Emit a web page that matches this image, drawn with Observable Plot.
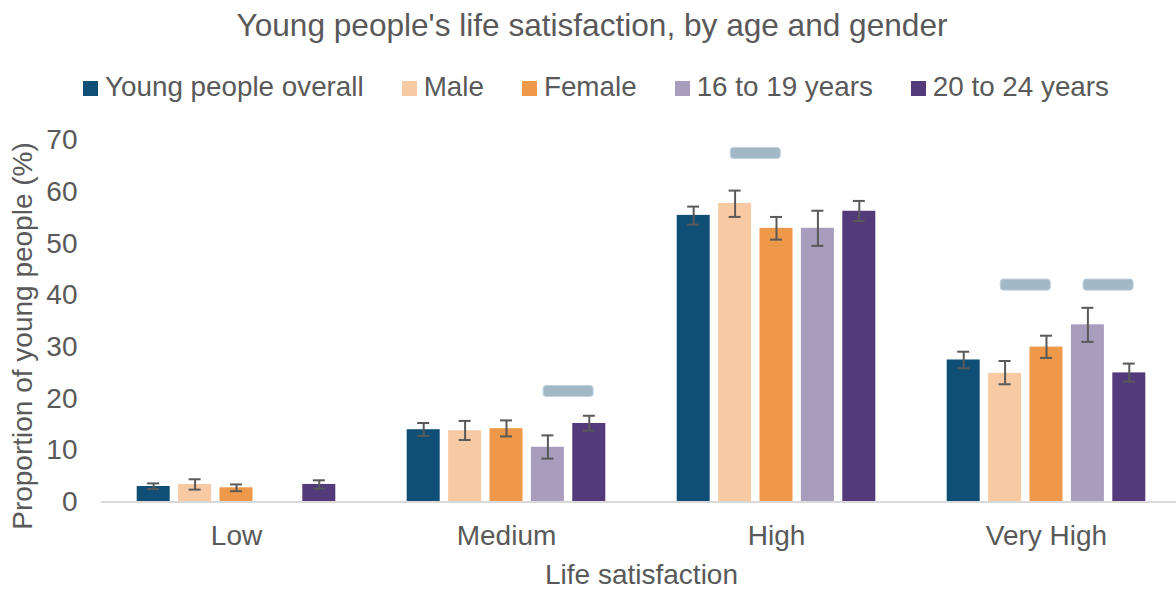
<!DOCTYPE html>
<html>
<head>
<meta charset="utf-8">
<script src="https://cdn.jsdelivr.net/npm/d3@7"></script>
<script src="https://cdn.jsdelivr.net/npm/@observablehq/plot@0.6"></script>
<style>
  html, body { margin: 0; padding: 0; background: #ffffff; }
  body { width: 1176px; height: 590px; overflow: hidden; font-family: "Liberation Sans", Arial, sans-serif; color: #595959; }
  #title { height: 50px; line-height: 50px; font-size: 31.6px; text-align: center; padding-left: 8px; white-space: nowrap; }
  #legend { height: 70px; line-height: 74px; font-size: 27.8px; text-align: center; padding-left: 16px; white-space: nowrap; }
  #legend .item { display: inline-block; }
  #legend .sw { display: inline-block; width: 15px; height: 15px; margin-right: 7px; vertical-align: baseline; }
  #chart svg { display: block; }
</style>
</head>
<body>
<div id="title">Young people's life satisfaction, by age and gender</div>
<div id="legend"></div>
<div id="chart"></div>
<script>
// ---- data ----
const categories = ["Low", "Medium", "High", "Very High"];
const series = ["Young people overall", "Male", "Female", "16 to 19 years", "20 to 24 years"];
const seriesColors = ["#104f75", "#f7caa4", "#ee984a", "#a89dbc", "#533a7a"];

// proportion (%) per series, in category order
const overallValues = [3.0, 14.0, 55.5, 27.5];
const maleValues    = [3.4, 13.8, 57.8, 24.9];
const femaleValues  = [2.75, 14.2, 53.0, 30.0];
const age16Values   = [null, 10.6, 53.0, 34.3];
const age20Values   = [3.4, 15.2, 56.3, 25.0];

// confidence interval bounds
const overallLower = [2.5, 12.8, 53.7, 25.9];
const overallUpper = [3.6, 15.3, 57.2, 29.1];
const maleLower    = [2.4, 12.0, 55.2, 22.8];
const maleUpper    = [4.4, 15.7, 60.3, 27.3];
const femaleLower  = [2.1, 12.7, 50.8, 27.9];
const femaleUpper  = [3.4, 15.8, 55.2, 32.2];
const age16Lower   = [null, 8.4, 49.6, 31.0];
const age16Upper   = [null, 12.9, 56.4, 37.6];
const age20Lower   = [2.6, 13.8, 54.4, 23.3];
const age20Upper   = [4.2, 16.7, 58.3, 26.8];

// significance markers (placed over a pair of bars)
const sigCategory = ["Medium", "High", "Very High", "Very High"];
const sigPairA    = ["16 to 19 years", "Male", "Male", "16 to 19 years"];
const sigPairB    = ["20 to 24 years", "Female", "Female", "20 to 24 years"];
const sigLevel    = [21.4, 67.5, 42.0, 42.0];

const yTicks = [0, 10, 20, 30, 40, 50, 60, 70];
const chartTitle = "Young people's life satisfaction, by age and gender";
const xTitle = "Life satisfaction";
const yTitle = "Proportion of young people (%)";

// ---- layout / style constants ----
const textColor = "#595959";
const fontFamily = "'Liberation Sans', Arial, sans-serif";
const pitch = 41.4 / 270;     // distance between bar centres, in category units
const barWidth = 33 / 270;    // bar width, in category units
const capHalf = 6 / 270;      // error bar cap half-width
const sigHalfWidth = 25 / 270;
const sigHalfHeight = 1.07;   // in %

const valueTable = [overallValues, maleValues, femaleValues, age16Values, age20Values];
const lowerTable = [overallLower, maleLower, femaleLower, age16Lower, age20Lower];
const upperTable = [overallUpper, maleUpper, femaleUpper, age16Upper, age20Upper];

const rows = [];
series.forEach((s, si) => {
  categories.forEach((c, ci) => {
    const v = valueTable[si][ci];
    if (v == null) return;
    rows.push({series: s, category: c, ci, si, value: v, lo: lowerTable[si][ci], hi: upperTable[si][ci],
               cx: ci + (si - (series.length - 1) / 2) * pitch});
  });
});

const sigRows = sigCategory.map((c, i) => {
  const ci = categories.indexOf(c);
  const a = series.indexOf(sigPairA[i]);
  const b = series.indexOf(sigPairB[i]);
  const mid = ci + (((a + b) / 2) - (series.length - 1) / 2) * pitch;
  return {category: c, cx: mid, level: sigLevel[i]};
});

// ---- title & legend ----
document.getElementById("title").textContent = chartTitle;
const legend = document.getElementById("legend");
series.forEach((s, i) => {
  const item = document.createElement("span");
  item.className = "item";
  if (i < series.length - 1) item.style.marginRight = "38px";
  const sw = document.createElement("span");
  sw.className = "sw";
  sw.style.background = seriesColors[i];
  item.appendChild(sw);
  item.appendChild(document.createTextNode(s));
  legend.appendChild(item);
});

// ---- chart ----
const plot = Plot.plot({
  width: 1176,
  height: 470,
  marginTop: 20,
  marginBottom: 88.5,
  marginLeft: 101,
  marginRight: 0,
  style: {fontFamily: fontFamily, fontSize: "28px", color: textColor, background: "#ffffff"},
  x: {type: "linear", domain: [-0.5, categories.length - 0.5], range: [101, 1181]},
  y: {domain: [0, 70], nice: false},
  color: {domain: series, range: seriesColors},
  marks: [
    Plot.rectY(rows, {x1: d => d.cx - barWidth / 2, x2: d => d.cx + barWidth / 2, y: "value", fill: "series"}),
    Plot.ruleY([0], {stroke: "#d9d9d9", strokeWidth: 2}),
    Plot.ruleX(rows, {x: "cx", y1: "lo", y2: "hi", stroke: "#595959", strokeWidth: 2}),
    Plot.ruleY(rows, {x1: d => d.cx - capHalf, x2: d => d.cx + capHalf, y: "hi", stroke: "#595959", strokeWidth: 2}),
    Plot.ruleY(rows, {x1: d => d.cx - capHalf, x2: d => d.cx + capHalf, y: "lo", stroke: "#595959", strokeWidth: 2}),
    Plot.rect(sigRows, {x1: d => d.cx - sigHalfWidth, x2: d => d.cx + sigHalfWidth,
                        y1: d => d.level - sigHalfHeight, y2: d => d.level + sigHalfHeight,
                        fill: "#a3b8c7", stroke: "#c3d1dc", strokeWidth: 1, rx: 3}),
    Plot.axisY({ticks: yTicks, tickSize: 0, tickPadding: 24, fontSize: 28, label: null, tickFormat: d => String(d)}),
    Plot.axisX({ticks: d3.range(categories.length), tickSize: 0, tickPadding: 23.3, fontSize: 28, label: null,
                tickFormat: i => categories[i]}),
    Plot.text([yTitle], {frameAnchor: "left", textAnchor: "middle", lineAnchor: "middle", rotate: -90,
                         dx: -78.3, dy: 14.75, fontSize: 28, fill: textColor}),
    Plot.text([xTitle], {frameAnchor: "bottom", textAnchor: "middle", lineAnchor: "middle",
                         dx: 2.5, dy: 73.5, fontSize: 28, fill: textColor})
  ]
});
document.getElementById("chart").appendChild(plot);
</script>
</body>
</html>
